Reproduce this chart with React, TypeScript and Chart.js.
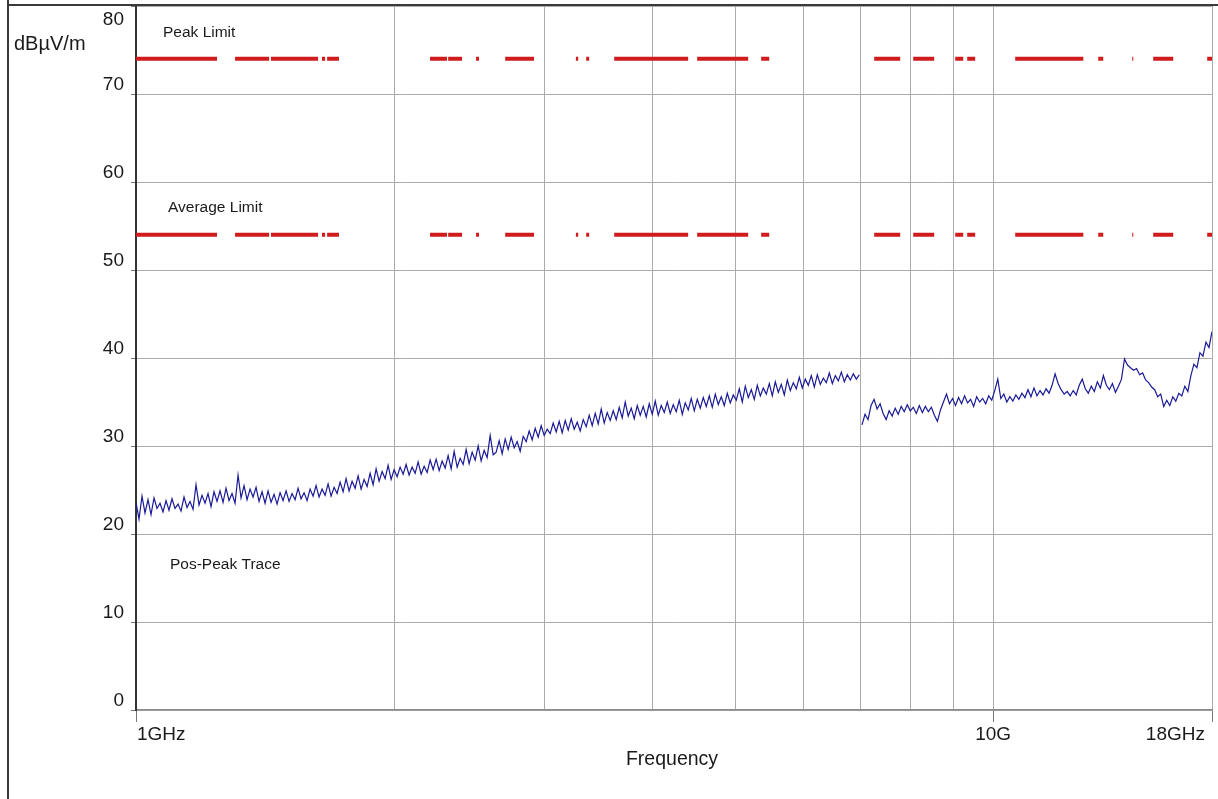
import React, { useEffect, useRef } from "react";
import { Chart, registerables } from "chart.js";

Chart.register(...registerables);

// ---------- data ----------
const yTickValues = [0, 10, 20, 30, 40, 50, 60, 70, 80];
const xGridValues = [1, 2, 3, 4, 5, 6, 7, 8, 9, 10, 18];
const xLabelValues = [1, 10, 18];
const xLabelTexts = ["1GHz", "10G", "18GHz"];

const peakLimit = 74;
const averageLimit = 54;
// visible pieces of the limit lines [startGHz, stopGHz]
const limitSegments: [number, number][] = [
  [1.0, 1.243], [1.305, 1.43], [1.437, 1.631], [1.648, 1.662], [1.671, 1.725],
  [2.203, 2.306], [2.313, 2.401], [2.493, 2.513], [2.696, 2.913], [3.26, 3.28],
  [3.351, 3.378], [3.613, 4.407], [4.515, 5.178], [5.362, 5.479], [7.264, 7.79],
  [8.067, 8.535], [9.031, 9.227], [9.326, 9.528], [10.61, 12.74], [13.26, 13.44],
  [14.53, 14.57], [15.37, 16.22], [17.77, 18.0],
];

// sweep 1 (1 - 7 GHz) and sweep 2 (7 - 18 GHz), dBµV/m
const sweepAStart = 1.0;
const sweepAStop = 6.98;
const levelsA = [
  23.6, 21.7, 24.3, 22.4, 23.9, 22.2, 24.1, 22.9, 23.5, 22.5,
  23.8, 22.7, 24.0, 22.9, 23.4, 22.6, 24.2, 23.0, 23.7, 22.8,
  25.6, 23.3, 24.4, 23.5, 24.6, 23.1, 24.8, 23.7, 24.9, 23.6,
  25.2, 23.8, 24.6, 23.5, 26.7, 24.1, 25.5, 23.9, 25.1, 24.2,
  25.3, 23.7, 24.8, 23.5, 24.9, 23.6, 24.5, 23.4, 24.7, 23.8,
  24.9, 23.7, 24.6, 23.9, 25.2, 24.0, 24.7, 23.8, 25.1, 24.3,
  25.5, 24.2, 25.1, 24.4, 25.7, 24.3, 25.3, 24.6, 25.9, 24.8,
  26.3, 24.9, 26.0, 25.2, 26.6, 25.1, 26.2, 25.4, 26.9, 25.6,
  27.4, 26.0, 27.1, 26.3, 27.8, 26.2, 27.3, 26.5, 27.6, 26.8,
  27.9, 26.7, 27.6, 26.9, 28.2, 26.8, 27.7, 27.0, 28.4, 27.3,
  28.5, 27.2, 28.3, 27.5, 28.9, 27.4, 29.4, 27.6, 28.6, 27.9,
  29.6, 28.0, 29.3, 28.4, 30.0, 28.3, 29.5, 28.7, 31.2, 29.0,
  29.3, 30.6, 29.1, 30.8, 29.6, 31.0, 29.8, 30.5, 29.4, 31.1,
  30.5, 31.7, 30.7, 32.0, 31.0, 32.3, 31.2, 31.9, 31.4, 32.6,
  31.6, 32.8, 31.5, 32.9, 31.8, 33.1, 31.9, 32.7, 31.7, 33.0,
  32.2, 33.5, 32.3, 33.7, 32.5, 34.2, 32.6, 33.8, 32.9, 34.0,
  33.0, 34.4, 33.2, 35.0, 33.4, 34.3, 33.1, 34.6, 33.5, 34.5,
  33.3, 34.8, 33.6, 35.1, 33.5, 34.6, 33.8, 35.0, 33.7, 34.7,
  33.9, 35.2, 33.6, 34.9, 34.1, 35.4, 34.0, 35.3, 34.3, 35.5,
  34.5, 35.7, 34.4, 35.9, 34.7, 35.6, 34.6, 36.0, 34.9, 35.8,
  35.2, 36.5, 35.0, 36.8, 35.5, 36.4, 35.3, 36.9, 35.7, 36.6,
  35.9, 37.1, 35.7, 37.3, 36.1, 37.0, 35.8, 37.5, 36.3, 37.2,
  36.5, 37.8, 36.6, 37.6, 36.9, 38.0, 36.7, 38.1, 37.0, 37.7,
  37.2, 38.3, 37.1, 38.0, 37.4, 38.4, 37.3, 38.1, 37.5, 38.2,
  37.6, 38.1,
];
const sweepBStart = 7.03;
const sweepBStop = 18.0;
const levelsB = [
  32.4, 33.6, 33.0, 34.6, 35.3, 34.2, 34.8, 33.7, 33.0, 34.0,
  33.4, 34.3, 33.6, 34.5, 33.9, 34.7, 34.0, 34.4, 33.7, 34.6,
  33.8, 34.5, 33.9, 34.4, 33.5, 32.8, 34.1, 35.0, 35.9, 34.8,
  35.4, 34.6, 35.5, 34.8, 35.7, 34.9, 35.3, 34.5, 35.6, 35.0,
  35.4, 34.8, 35.7, 35.2, 36.3, 37.6, 35.4, 35.9, 35.0, 35.6,
  35.1, 35.8, 35.3, 36.0, 35.5, 36.4, 35.6, 36.6, 35.7, 36.3,
  35.8, 36.5, 36.0, 36.9, 38.2, 37.1, 36.4, 35.9, 36.2, 35.7,
  36.3, 35.8, 36.9, 37.6, 36.5, 36.0, 36.8, 36.2, 37.3, 36.6,
  38.0, 36.9, 36.4, 37.1, 36.1, 36.8, 37.6, 39.9, 39.2, 38.9,
  38.6, 38.8, 38.1, 38.3, 37.5, 37.2, 36.7, 36.4, 35.6, 35.9,
  34.5, 35.2, 34.6, 35.6, 35.1, 36.0, 35.7, 36.8, 36.2, 38.0,
  39.3, 38.9, 40.6, 40.2, 41.8, 41.2, 43.0,
];

// ---------- helpers ----------
function sweepPoints(start: number, stop: number, levels: number[]) {
  const n = levels.length;
  return levels.map((v, i) => ({
    x: start * Math.pow(stop / start, i / (n - 1)),
    y: v,
  }));
}

function limitPoints(level: number) {
  const pts: { x: number; y: number | null }[] = [];
  limitSegments.forEach(([a, b]) => {
    pts.push({ x: a, y: level }, { x: b, y: level }, { x: b, y: null });
  });
  return pts;
}

const FONT = "'Liberation Sans', Arial, sans-serif";

const overlay = {
  id: "overlay",
  afterDraw(chart: any) {
    const { ctx, chartArea: ca, scales } = chart;
    const xs = scales.x;
    const ys = scales.y;
    ctx.save();
    // outer frame
    ctx.strokeStyle = "#3a3a3a";
    ctx.lineWidth = 2;
    ctx.beginPath();
    ctx.moveTo(8, 0);
    ctx.lineTo(8, 799);
    ctx.moveTo(8, 5);
    ctx.lineTo(1218, 5);
    ctx.stroke();

    ctx.fillStyle = "#1a1a1a";
    // y tick labels
    ctx.font = `19px ${FONT}`;
    ctx.textAlign = "right";
    ctx.textBaseline = "middle";
    yTickValues.forEach((v) => {
      const py = ys.getPixelForValue(v);
      ctx.fillText(String(v), ca.left - 12, Math.max(py - 9, ca.top + 14));
    });
    // x tick labels
    xLabelValues.forEach((v, i) => {
      const px = xs.getPixelForValue(v);
      if (i === 0) {
        ctx.textAlign = "left";
        ctx.fillText(xLabelTexts[i], px + 1, ca.bottom + 25);
      } else if (i === xLabelValues.length - 1) {
        ctx.textAlign = "right";
        ctx.fillText(xLabelTexts[i], px - 7, ca.bottom + 25);
      } else {
        ctx.textAlign = "center";
        ctx.fillText(xLabelTexts[i], px, ca.bottom + 25);
      }
    });
    // unit
    ctx.font = `20px ${FONT}`;
    ctx.textAlign = "left";
    ctx.fillText("dBµV/m", 14, 44);
    // axis title
    ctx.font = `19.5px ${FONT}`;
    ctx.textAlign = "center";
    ctx.fillText("Frequency", 672, ca.bottom + 50);
    // trace/limit names
    ctx.font = `15.5px ${FONT}`;
    ctx.textAlign = "left";
    ctx.fillText("Peak Limit", ca.left + 27, 33);
    ctx.fillText("Average Limit", ca.left + 32, 208);
    ctx.fillText("Pos-Peak Trace", ca.left + 34, 565);
    ctx.restore();
  },
};

export default function App() {
  const ref = useRef<HTMLCanvasElement | null>(null);

  useEffect(() => {
    if (!ref.current) return;
    const red = "#d01c1c";
    const blue = "#1a1a96";
    const chart = new Chart(ref.current, {
      type: "line",
      data: {
        datasets: [
          {
            label: "Peak Limit",
            data: limitPoints(peakLimit) as any,
            borderColor: red,
            borderWidth: 4,
            borderCapStyle: "butt",
            pointRadius: 0,
            spanGaps: false,
          },
          {
            label: "Average Limit",
            data: limitPoints(averageLimit) as any,
            borderColor: red,
            borderWidth: 4,
            borderCapStyle: "butt",
            pointRadius: 0,
            spanGaps: false,
          },
          {
            label: "Pos-Peak Trace A",
            data: sweepPoints(sweepAStart, sweepAStop, levelsA),
            borderColor: blue,
            borderWidth: 1.2,
            pointRadius: 0,
            tension: 0,
          },
          {
            label: "Pos-Peak Trace B",
            data: sweepPoints(sweepBStart, sweepBStop, levelsB),
            borderColor: blue,
            borderWidth: 1.2,
            pointRadius: 0,
            tension: 0,
          },
        ],
      },
      options: {
        animation: false,
        responsive: false,
        devicePixelRatio: 1,
        layout: { padding: { left: 0, right: 6, top: 6, bottom: 0 } },
        plugins: {
          legend: { display: false },
          tooltip: { enabled: false },
          title: { display: false },
        },
        scales: {
          x: {
            type: "logarithmic",
            min: 1,
            max: 18,
            afterBuildTicks: (scale: any) => {
              scale.ticks = xGridValues.map((v) => ({ value: v }));
            },
            afterFit: (scale: any) => {
              scale.height = 89;
            },
            ticks: { display: false },
            grid: {
              color: "#ababab",
              lineWidth: 1,
              tickLength: 12,
              tickColor: (c: any) =>
                xLabelValues.includes(c.tick?.value) ? "#777777" : "rgba(0,0,0,0)",
            },
            border: { color: "#8a8a8a", width: 1.5 },
          },
          y: {
            type: "linear",
            min: 0,
            max: 80,
            afterBuildTicks: (scale: any) => {
              scale.ticks = yTickValues.map((v) => ({ value: v }));
            },
            afterFit: (scale: any) => {
              scale.width = 136;
            },
            ticks: { display: false },
            grid: {
              color: "#ababab",
              lineWidth: 1,
              tickLength: 5,
              tickColor: "#777777",
            },
            border: { color: "#333333", width: 2 },
          },
        },
      },
      plugins: [overlay],
    });
    return () => chart.destroy();
  }, []);

  return (
    <canvas
      ref={ref}
      width={1218}
      height={799}
      style={{ position: "absolute", left: 0, top: 0, width: 1218, height: 799, background: "#fff" }}
    />
  );
}
